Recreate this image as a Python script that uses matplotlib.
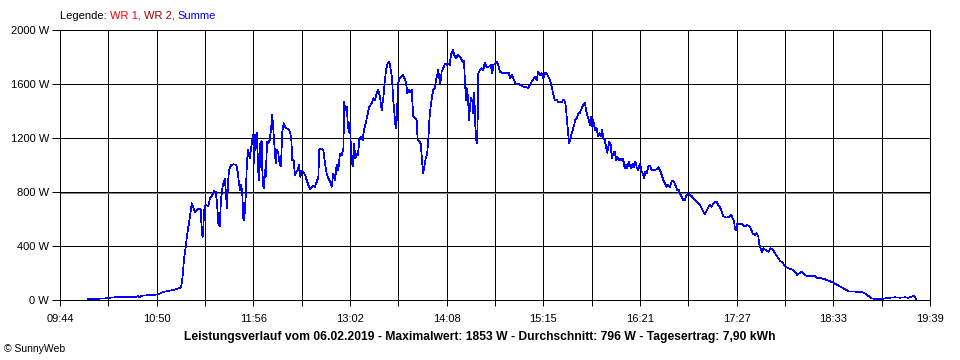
import numpy as np
import matplotlib
matplotlib.use("Agg")
import matplotlib.pyplot as plt

plt.rcParams['font.family'] = ['Liberation Sans', 'DejaVu Sans']
plt.rcParams['lines.antialiased'] = False

PX = 0.72  # one pixel line width at dpi 100

# x axis: minutes after 09:44, axis runs until 19:39
SPAN_MIN = 595
time_labels = ['09:44', '10:50', '11:56', '13:02', '14:08',
               '15:15', '16:21', '17:27', '18:33', '19:39']
y_ticks = [0, 400, 800, 1200, 1600, 2000]
mean_w = 796
legend_parts = [('Legende: ', 'black'), ('WR 1, ', '#ff0000'),
                ('WR 2, ', '#a00000'), ('Summe', '#0000ff')]
title_text = ('Leistungsverlauf vom 06.02.2019 - Maximalwert: 1853 W - '
              'Durchschnitt: 796 W - Tagesertrag: 7,90 kWh')

# Summe (W)
minutes = [
    18.9, 30.8, 31.3, 37.6, 46.7, 50.1, 53.5, 54.7, 55.9, 66.1, 68.4, 70.6,
    76.4, 80.9, 82.8, 83.6, 84.3, 85.0, 86.0, 86.9, 88.2, 89.1,
    90.1, 92.3, 94.6, 96.4, 96.9, 97.6, 98.7, 99.6, 101.4, 102.6, 104.2, 105.5,
    106.5, 107.4, 108.3, 109.2, 110.1, 111.0, 112.0, 112.8, 113.5, 114.2, 114.9,
    115.6, 116.9, 118.8, 120.6, 121.5, 122.4, 123.3, 124.0, 124.7, 125.4, 126.0,
    127.0, 127.9, 128.8, 129.7, 130.6, 131.5, 132.2, 132.9, 133.4, 134.0, 134.7,
    135.6, 136.3, 137.0, 137.9, 138.6, 139.3, 140.0, 140.7, 141.6, 142.5, 143.4,
    144.3, 145.2, 145.9, 146.6, 147.5, 148.2, 149.3, 150.3, 151.1, 152.0, 153.0,
    153.9, 155.0, 156.1, 157.3, 158.2, 158.9, 159.8, 160.7, 161.6, 162.6, 163.5,
    164.3, 165.3, 166.4, 167.6, 168.7, 169.8, 171.0, 172.1, 173.2, 174.4, 175.6,
    176.7, 177.3, 178.5,
    180.1, 181.2, 182.4, 183.5, 184.7, 185.8, 186.9, 188.1, 189.2, 190.3, 191.5,
    192.7, 193.8, 194.4, 195.1, 196.1, 196.8, 197.4, 198.3, 199.2, 200.2, 201.1,
    202.0, 202.9, 203.8, 204.7, 205.7, 207.0, 207.9, 209.8, 211.5, 213.2, 214.3,
    215.4, 216.6, 217.7, 218.8, 220.0, 221.1, 222.1, 223.0, 224.1, 225.2, 226.2,
    227.1, 227.9, 228.9, 229.6, 230.3, 231.2, 232.1, 233.2, 234.4, 235.5, 236.6,
    237.5, 238.5, 239.4, 240.5, 241.6, 242.8, 243.9, 244.6, 245.7, 246.7, 247.6,
    248.3, 249.1, 250.1, 251.0, 251.9, 252.6, 253.5, 254.4, 255.3, 256.3, 257.2,
    258.0, 258.7, 259.4, 260.1, 261.0, 262.1, 263.3, 264.5, 265.6, 266.5, 267.4,
    268.6, 269.7, 270.8, 272.0, 273.1,
    274.2, 275.4, 276.3, 277.0, 277.7, 278.3, 279.0, 279.7, 280.4, 281.1, 282.0,
    282.7, 283.3, 284.0, 284.7, 285.4, 286.1, 287.2, 288.4, 289.5, 290.5, 291.8,
    293.2, 294.6, 295.7, 296.3, 297.7, 298.7, 299.8, 300.9, 302.3, 303.7, 305.5,
    306.9, 307.8, 309.1, 310.0, 311.4, 313.2, 315.1, 316.9, 318.7, 320.1, 321.4,
    322.6, 323.7, 325.1, 326.0, 327.1, 328.3, 329.4, 330.5, 331.7, 332.9, 334.0,
    335.1, 336.3, 337.4, 338.5, 339.7, 340.8, 342.0, 343.1, 344.2, 345.4, 346.1,
    346.7, 347.4, 348.1, 348.8, 349.7, 350.6, 351.5, 352.4, 353.4, 354.5, 355.6,
    356.8, 357.9, 358.9, 359.7, 360.6, 361.6, 362.5, 363.4, 364.0, 364.7, 365.9,
    367.1, 367.9, 368.8, 369.8, 370.7, 371.6, 372.5, 373.4, 374.3,
    375.7, 376.6, 377.5, 378.4, 379.4, 380.3, 381.2, 382.1, 383.0, 384.4, 385.2,
    386.2, 387.1, 388.0, 388.9, 389.8, 390.7, 391.7, 392.6, 393.5, 394.4, 395.5,
    396.7, 397.6, 398.5, 399.4, 400.3, 401.3, 402.3, 403.5, 404.7, 405.8, 406.9,
    408.1, 409.2, 410.3, 411.5, 412.6, 413.8, 414.9, 416.0, 417.2, 418.6, 419.9,
    421.3, 422.2, 423.1, 424.0, 425.2, 426.3, 427.4, 428.6, 429.7, 430.9, 432.0,
    433.1, 434.3, 435.4, 436.5, 437.7, 438.9, 440.0, 441.1, 442.3, 443.4, 444.5,
    445.7, 446.8, 448.0, 449.1, 450.2, 451.4, 452.5, 453.6, 455.0, 456.4, 457.7,
    459.1, 460.1, 461.0, 461.6, 462.3, 463.2, 464.6,
    466.2, 468.5, 470.0, 471.9, 473.7, 475.3, 476.5, 477.6, 478.3, 479.2, 480.1,
    481.0, 482.8, 484.4, 486.1, 487.4, 489.0, 490.6, 492.4, 494.3, 496.0, 498.1,
    500.4, 502.7, 504.2, 505.6, 507.2, 508.8, 510.7, 514.1, 516.4, 517.9, 520.9,
    523.2, 525.5, 528.9, 531.6, 534.6, 536.9, 539.8, 543.7, 548.3, 550.5, 552.8,
    555.1, 558.5, 562.0, 564.2, 567.6, 571.1, 574.5, 577.9, 580.2, 582.5, 583.6,
    584.7, 585.4,
]
watts = [
    5, 12, 15, 20, 25, 20, 28, 18, 32, 40, 48, 60,
    72, 85, 95, 150, 235, 320, 395, 480, 570, 640,
    716, 654, 679, 667, 494, 469, 667, 704, 696, 753, 778, 807,
    802, 716, 568, 548, 741, 827, 876, 894, 790, 679, 864,
    963, 998, 1005, 1002, 950, 864, 815, 852, 778, 605, 593,
    765, 1037, 1111, 1050, 1111, 1190, 1222, 1012, 1222, 1123, 1235,
    950, 889, 1160, 1180, 864, 827, 963, 913, 1173, 1160, 1185,
    1259, 1370, 1259, 1136, 1012, 1111, 1086, 1000, 988, 1247, 1309,
    1284, 1272, 1264, 1247, 1185, 1037, 1032, 926, 950, 963, 1000,
    913, 958, 950, 926, 889, 852, 820, 835, 845, 839, 876,
    913, 1111, 1123,
    1111, 1012, 938, 901, 876, 839, 938, 889, 1000, 963, 1086,
    1074, 1123, 1469, 1407, 1432, 1309, 1247, 1309, 1061, 988, 1160,
    1049, 1086, 1074, 1185, 1210, 1185, 1259, 1346, 1432, 1457, 1494,
    1481, 1531, 1556, 1506, 1407, 1494, 1617, 1704, 1753, 1765, 1704,
    1642, 1481, 1358, 1272, 1333, 1605, 1642, 1654, 1667, 1642, 1617,
    1531, 1556, 1543, 1556, 1358, 1346, 1333, 1185, 1173, 1160, 1037,
    938, 988, 1049, 1074, 1185, 1333, 1432, 1506, 1556, 1568, 1630,
    1667, 1704, 1642, 1605, 1691, 1716, 1753, 1741, 1753, 1741, 1815,
    1852, 1815, 1790, 1815, 1802,
    1790, 1765, 1773, 1605, 1481, 1568, 1506, 1333, 1432, 1494, 1481,
    1383, 1536, 1296, 1185, 1160, 1679, 1704, 1716, 1704, 1758, 1728,
    1728, 1741, 1679, 1741, 1748, 1765, 1741, 1691, 1684, 1679, 1679,
    1684, 1642, 1667, 1642, 1605, 1600, 1593, 1580, 1580, 1568, 1593,
    1617, 1635, 1654, 1630, 1691, 1667, 1679, 1642, 1679, 1679, 1654,
    1630, 1580, 1519, 1481, 1486, 1462, 1469, 1462, 1486, 1469, 1420,
    1333, 1259, 1160, 1185, 1222, 1259, 1289, 1333, 1346, 1378, 1388,
    1420, 1444, 1462, 1412, 1370, 1333, 1296, 1358, 1284, 1333, 1259,
    1272, 1210, 1235, 1210, 1259, 1198, 1185, 1136, 1091,
    1173, 1148, 1049, 1086, 1099, 1037, 1061, 1037, 1049, 1032, 1049,
    975, 1000, 975, 1024, 1000, 975, 1012, 983, 1024, 983, 963,
    1012, 958, 938, 901, 950, 938, 988, 993, 958, 963, 963,
    968, 983, 963, 926, 889, 864, 839, 852, 839, 884, 876,
    839, 810, 815, 785, 765, 741, 741, 778, 790, 778, 770,
    753, 741, 728, 716, 704, 679, 654, 637, 662, 687, 704,
    691, 716, 728, 728, 704, 687, 654, 622, 612, 612, 617,
    630, 605, 580, 531, 519, 568, 563,
    563, 543, 556, 543, 494, 481, 494, 469, 407, 383, 358,
    383, 370, 358, 383, 375, 346, 321, 291, 276, 247, 235,
    227, 210, 185, 198, 210, 193, 178, 178, 178, 161, 161,
    153, 143, 128, 111, 94, 79, 62, 62, 59, 49, 30,
    12, 7, 7, 12, 17, 20, 17, 20, 17, 25, 32,
    25, 5,
]

fig = plt.figure(figsize=(9.6, 3.6), dpi=100)
ax = fig.add_axes([60 / 960, 60 / 360, 870 / 960, 270 / 360])

ax.plot(minutes, watts, color='#0000ff', lw=0.5, zorder=3)
ax.axhline(mean_w, color='#808080', lw=PX, zorder=2)

xt = np.linspace(0, SPAN_MIN, 19)
ax.set_xticks(xt)
xl = [''] * len(xt)
xl[::2] = time_labels
ax.set_xticklabels(xl)
ax.set_yticks(y_ticks)
ax.set_yticklabels([f'{v} W' for v in y_ticks])
ax.set_xlim(0, SPAN_MIN)
ax.set_ylim(0, 2000)

ax.grid(True, color='black', lw=PX, zorder=1)
ax.tick_params(axis='x', length=4, width=PX, pad=6, labelsize=8)
ax.tick_params(axis='y', length=6, width=PX, pad=2, labelsize=8)
for s in ax.spines.values():
    s.set_linewidth(PX)
    s.set_color('black')

# legend line on top, coloured pieces side by side
fig.canvas.draw()
r = fig.canvas.get_renderer()
x = 60
for txt, col in legend_parts:
    t = fig.text(x / 960, 1 - 16 / 360, txt, color=col, fontsize=8,
                 ha='left', va='center')
    x += t.get_window_extent(renderer=r).width

fig.text(480 / 960, 1 - 337 / 360, title_text, ha='center', va='center',
         fontsize=8.7, fontweight='bold')
fig.text(4 / 960, 1 - 349 / 360, '\u00a9 SunnyWeb', ha='left', va='center',
         fontsize=7.5)

fig.savefig('out.png', dpi=100)
